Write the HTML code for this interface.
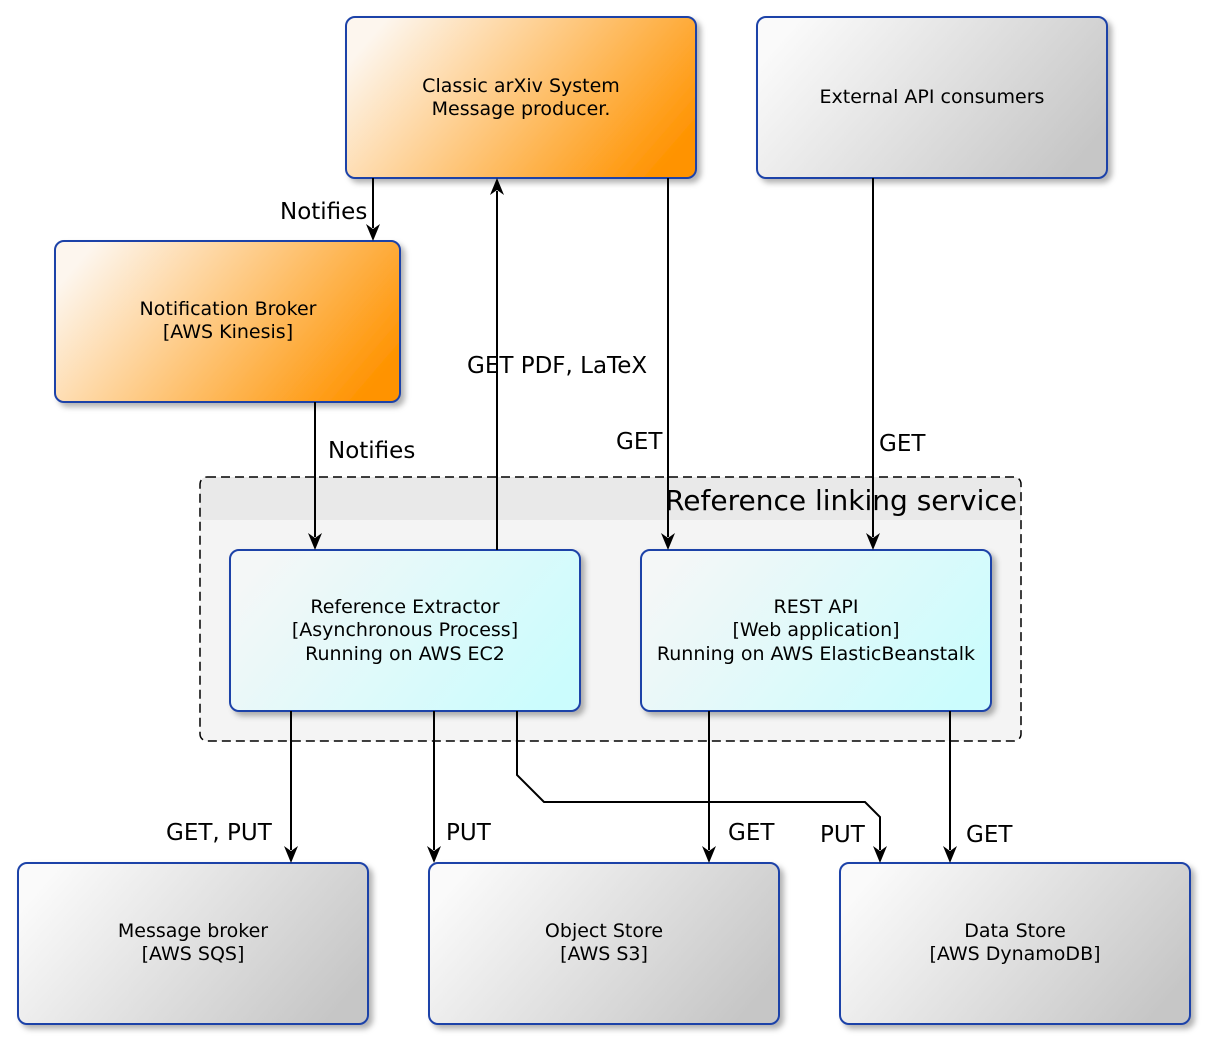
<!DOCTYPE html>
<html><head><meta charset="utf-8"><style>
html,body{margin:0;padding:0;background:#fff;}
svg{display:block;}
text{font-family:"DejaVu Sans","Liberation Sans",sans-serif;fill:#000;}
.n{font-size:19px;text-anchor:middle;}
.l{font-size:23px;}
</style></head><body>
<svg width="1208" height="1042" viewBox="0 0 1208 1042" xmlns="http://www.w3.org/2000/svg">
<defs>
<linearGradient id="og" x1="0" y1="0.3" x2="1" y2="0.7"><stop offset="0" stop-color="#fdf6ee"/><stop offset="1" stop-color="#ff9300"/></linearGradient>
<linearGradient id="gg" x1="0" y1="0.3" x2="1" y2="0.7"><stop offset="0" stop-color="#fafafa"/><stop offset="1" stop-color="#c6c6c6"/></linearGradient>
<linearGradient id="cg" x1="0" y1="0.3" x2="1" y2="0.7"><stop offset="0" stop-color="#f4f7f7"/><stop offset="1" stop-color="#cbfcfd"/></linearGradient>
<filter id="sh" x="-10%" y="-10%" width="130%" height="130%"><feDropShadow dx="4" dy="4" stdDeviation="3" flood-color="#000" flood-opacity="0.3"/></filter>
<path id="ad" d="M-7,-17 L0,-12 L7,-17 L0,0 Z" fill="#000"/>
</defs>

<rect x="200" y="477" width="821" height="264" rx="7" fill="#f4f4f4"/>
<path d="M207,477 H1014 A7,7 0 0 1 1021,484 V520 H200 V484 A7,7 0 0 1 207,477 Z" fill="#e9e9e9"/>
<rect x="200" y="477" width="821" height="264" rx="7" fill="none" stroke="#000" stroke-width="1.5" stroke-dasharray="9,5"/>
<text x="1017" y="510" style="font-size:28px;text-anchor:end;">Reference linking service</text>

<g stroke="#1f43a8" stroke-width="2" filter="url(#sh)">
<rect x="346" y="17" width="350" height="161" rx="9" fill="url(#og)"/>
<rect x="757" y="17" width="350" height="161" rx="9" fill="url(#gg)"/>
<rect x="55" y="241" width="345" height="161" rx="9" fill="url(#og)"/>
<rect x="230" y="550" width="350" height="161" rx="9" fill="url(#cg)"/>
<rect x="641" y="550" width="350" height="161" rx="9" fill="url(#cg)"/>
<rect x="18" y="863" width="350" height="161" rx="9" fill="url(#gg)"/>
<rect x="429" y="863" width="350" height="161" rx="9" fill="url(#gg)"/>
<rect x="840" y="863" width="350" height="161" rx="9" fill="url(#gg)"/>
</g>
<text class="n" x="521" y="92">Classic arXiv System</text>
<text class="n" x="521" y="115">Message producer.</text>
<text class="n" x="932" y="103">External API consumers</text>
<text class="n" x="228" y="315">Notification Broker</text>
<text class="n" x="228" y="338">[AWS Kinesis]</text>
<text class="n" x="405" y="613">Reference Extractor</text>
<text class="n" x="405" y="636">[Asynchronous Process]</text>
<text class="n" x="405" y="660">Running on AWS EC2</text>
<text class="n" x="816" y="613">REST API</text>
<text class="n" x="816" y="636">[Web application]</text>
<text class="n" x="816" y="660">Running on AWS ElasticBeanstalk</text>
<text class="n" x="193" y="937">Message broker</text>
<text class="n" x="193" y="960">[AWS SQS]</text>
<text class="n" x="604" y="937">Object Store</text>
<text class="n" x="604" y="960">[AWS S3]</text>
<text class="n" x="1015" y="937">Data Store</text>
<text class="n" x="1015" y="960">[AWS DynamoDB]</text>

<g stroke="#000" stroke-width="2" fill="none">
<path d="M373,178 V228"/>
<path d="M315,402 V537"/>
<path d="M497,550 V191"/>
<path d="M668,178 V537"/>
<path d="M873,178 V537"/>
<path d="M291,711 V850"/>
<path d="M434,711 V850"/>
<path d="M517,711 V775 L544,802 H865 L880,817 V850"/>
<path d="M709,711 V850"/>
<path d="M950,711 V850"/>
</g>
<use href="#ad" x="373" y="241"/>
<use href="#ad" x="315" y="550"/>
<use href="#ad" transform="translate(497,178) rotate(180)"/>
<use href="#ad" x="668" y="550"/>
<use href="#ad" x="873" y="550"/>
<use href="#ad" x="291" y="863"/>
<use href="#ad" x="434" y="863"/>
<use href="#ad" x="880" y="863"/>
<use href="#ad" x="709" y="863"/>
<use href="#ad" x="950" y="863"/>

<text class="l" x="280" y="219">Notifies</text>
<text class="l" x="328" y="458">Notifies</text>
<text class="l" x="467" y="373">GET PDF, LaTeX</text>
<text class="l" x="616" y="449">GET</text>
<text class="l" x="879" y="451">GET</text>
<text class="l" x="166" y="840">GET, PUT</text>
<text class="l" x="446" y="840">PUT</text>
<text class="l" x="728" y="840">GET</text>
<text class="l" x="820" y="842">PUT</text>
<text class="l" x="966" y="842">GET</text>
</svg>
</body></html>
